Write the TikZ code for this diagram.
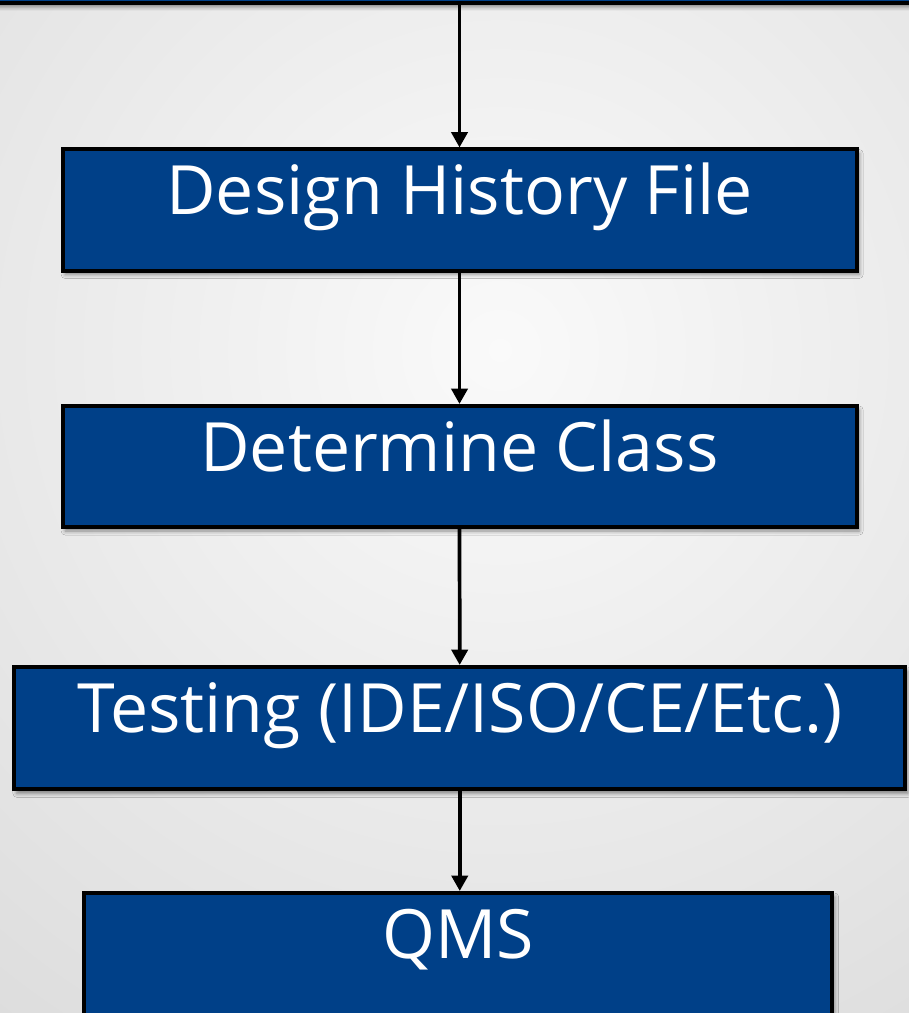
\documentclass[tikz,border=0pt]{standalone}
\usepackage{fontspec}
\setmainfont{Open Sans}
\usetikzlibrary{arrows.meta,shadows.blur}
\definecolor{boxblue}{RGB}{0,64,136}
\pgfdeclareradialshading{bgshade}{\pgfpoint{0bp}{0bp}}{color(0bp)=(black!2); color(20bp)=(black!15); color(35bp)=(black!19); color(50bp)=(black!19)}
\tikzset{
  stagebox/.style={draw=black, line width=3pt, fill=boxblue, text=white, inner sep=0pt,
    text height=48.75pt, text depth=42pt, font=\fontsize{51}{60}\selectfont,
    blur shadow={shadow xshift=2pt, shadow yshift=-3pt, shadow blur radius=3pt, shadow opacity=45}},
  flow/.style={line width=2.8pt, -{Triangle[width=12pt,length=11.5pt]}}
}

\begin{document}
\begin{tikzpicture}[x=0.75pt,y=-0.75pt]
  \useasboundingbox (0,0) rectangle (909,1013);
  \clip (0,0) rectangle (909,1013);
  \shade[shading=bgshade] (500,350) circle [radius=900pt];

  \node[stagebox, minimum width=720pt, minimum height=45pt, anchor=south] (top) at (459.5,5) {};
  \node[stagebox, minimum width=595.5pt, anchor=base] (dhf) at (459.5,214.5) {Design History File};
  \node[stagebox, minimum width=595.5pt, anchor=base] (cls) at (459.5,471) {Determine Class};
  \node[stagebox, minimum width=668.25pt, text depth=43pt, anchor=base] (test) at (459.75,732) {Testing (IDE/ISO/CE/Etc.)};
  \node[stagebox, minimum width=561pt, text depth=70pt, anchor=base] (qms) at (458,958) {QMS};

  \draw[flow] (top) -- (dhf);
  \draw[flow] (dhf) -- (cls);
  \draw[flow] (cls) -- (test);
  \draw[flow] (test.south) -- (test.south |- qms.north);
\end{tikzpicture}
\end{document}
